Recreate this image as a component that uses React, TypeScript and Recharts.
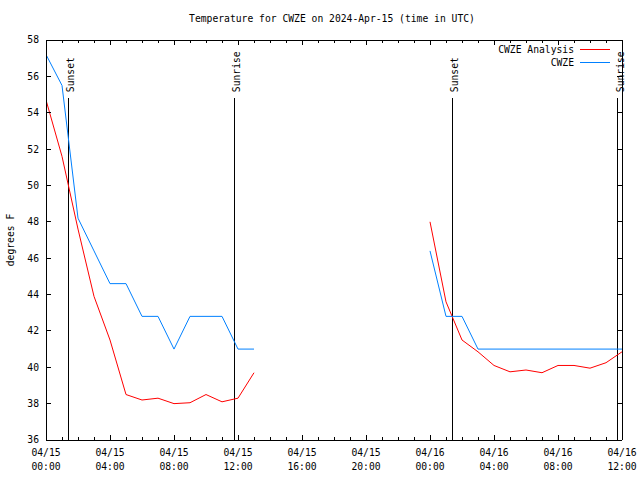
import { LineChart, Line, XAxis, YAxis, ReferenceLine } from "recharts";

const hours = [
  0, 1, 2, 3, 4, 5, 6, 7, 8, 9, 10, 11, 12, 13, 14, 15, 16, 17, 18,
  19, 20, 21, 22, 23, 24, 25, 26, 27, 28, 29, 30, 31, 32, 33, 34, 35, 36,
];

// CWZE Analysis (red)
const analysis = [
  54.7, 51.6, 47.6, 43.9, 41.5, 38.5, 38.2, 38.3, 38.0, 38.05, 38.5, 38.1, 38.3, 39.7,
  null, null, null, null, null, null, null, null, null, null,
  48.0, 43.6, 41.5, 40.85, 40.1, 39.75, 39.85, 39.7, 40.1, 40.1, 39.95, 40.25, 40.85,
];

// CWZE observations (blue)
const observed = [
  57.2, 55.5, 48.2, 46.4, 44.6, 44.6, 42.8, 42.8, 41.0, 42.8, 42.8, 42.8, 41.0, 41.0,
  null, null, null, null, null, null, null, null, null, null,
  46.4, 42.8, 42.8, 41.0, 41.0, 41.0, 41.0, 41.0, 41.0, 41.0, 41.0, 41.0, 41.0,
];

const majorHours = [0, 4, 8, 12, 16, 20, 24, 28, 32, 36];
const tickDates = ["04/15", "04/15", "04/15", "04/15", "04/15", "04/15", "04/16", "04/16", "04/16", "04/16"];
const tickTimes = ["00:00", "04:00", "08:00", "12:00", "16:00", "20:00", "00:00", "04:00", "08:00", "12:00"];
const yTicks = [36, 38, 40, 42, 44, 46, 48, 50, 52, 54, 56, 58];

const sunHours = [1.38, 11.75, 25.38, 35.72];
const sunLabels = ["Sunset", "Sunrise", "Sunset", "Sunrise"];

const seriesNames = ["CWZE Analysis", "CWZE"];
const seriesColors = ["#ff0000", "#0080ff"];

const FONT = "'DejaVu Sans Mono', monospace";

const data = hours.map((h, i) => ({ hour: h, analysis: analysis[i], observed: observed[i] }));

function DateTick(props: any) {
  const { x, y, payload } = props;
  const idx = majorHours.indexOf(payload.value);
  return (
    <text x={x} y={y} textAnchor="middle" fontFamily={FONT} fontSize={9.7} fill="#000">
      <tspan x={x} dy="0.71em">{tickDates[idx]}</tspan>
      <tspan x={x} dy={14}>{tickTimes[idx]}</tspan>
    </text>
  );
}

// inward tick marks, gnuplot style (longer on major hours)
function makeInTick(dx: number, dy: number, isX: boolean) {
  return (props: any) => {
    const { x, y, payload } = props;
    const len = isX && payload.value % 4 !== 0 ? 3 : 5;
    return (
      <line x1={x} y1={y} x2={x + dx * len} y2={y + dy * len} stroke="#000" strokeWidth={1} shapeRendering="crispEdges" />
    );
  };
}

function sunLabel(text: string) {
  return (props: any) => {
    const vb = props.viewBox || {};
    const x = vb.x + 6;
    const y = vb.y - 6;
    return (
      <text x={x} y={y} transform={`rotate(-90, ${x}, ${y})`} fontFamily={FONT} fontSize={9.7} fill="#000">
        {text}
      </text>
    );
  };
}

const crisp = { shapeRendering: "crispEdges" } as any;

export default function App() {
  return (
    <div style={{ position: "absolute", left: 0, top: 0, width: 640, height: 480, background: "#fff" }}>
      <div
        style={{
          position: "absolute",
          left: 332,
          top: 13,
          transform: "translateX(-50%)",
          whiteSpace: "nowrap",
          fontFamily: FONT,
          fontSize: 9.7,
        }}
      >
        Temperature for CWZE on 2024-Apr-15 (time in UTC)
      </div>

      <LineChart width={640} height={480} data={data} margin={{ top: 40, right: 18, bottom: 0, left: 0 }}>
        {/* frame with inward ticks */}
        <XAxis xAxisId="bTicks" dataKey="hour" type="number" domain={[0, 36]} allowDataOverflow orientation="bottom" mirror height={1}
          ticks={hours} interval={0} tickSize={0} tickMargin={0} tickLine={false} tick={makeInTick(0, -1, true)}
          axisLine={{ stroke: "#000", ...crisp }} />
        <XAxis xAxisId="tTicks" dataKey="hour" type="number" domain={[0, 36]} allowDataOverflow orientation="top" mirror height={1}
          ticks={hours} interval={0} tickSize={0} tickMargin={0} tickLine={false} tick={makeInTick(0, 1, true)}
          axisLine={{ stroke: "#000", ...crisp }} />
        <YAxis yAxisId="lTicks" type="number" domain={[36, 58]} allowDataOverflow orientation="left" mirror width={1}
          ticks={yTicks} interval={0} tickSize={0} tickMargin={0} tickLine={false} tick={makeInTick(1, 0, false)}
          axisLine={{ stroke: "#000", ...crisp }} />
        <YAxis yAxisId="rTicks" type="number" domain={[36, 58]} allowDataOverflow orientation="right" mirror width={1}
          ticks={yTicks} interval={0} tickSize={0} tickMargin={0} tickLine={false} tick={makeInTick(-1, 0, false)}
          axisLine={{ stroke: "#000", ...crisp }} />

        {/* label axes */}
        <XAxis xAxisId="main" dataKey="hour" type="number" domain={[0, 36]} allowDataOverflow height={40}
          ticks={majorHours} interval={0} tick={<DateTick />} tickLine={false} axisLine={false} tickSize={0} tickMargin={9} />
        <YAxis yAxisId="main" type="number" domain={[36, 58]} allowDataOverflow width={46}
          ticks={yTicks} interval={0} tickLine={false} axisLine={false} tickSize={0} tickMargin={7}
          tick={{ fontFamily: FONT, fontSize: 9.7, fill: "#000" }}
          label={(props: any) => {
            const vb = props.viewBox || {};
            const cy = vb.y + vb.height / 2;
            return (
              <text x={14} y={cy} textAnchor="middle" transform={`rotate(-90, 14, ${cy})`} fontFamily={FONT} fontSize={9.7} fill="#000">
                degrees F
              </text>
            );
          }}
        />

        {sunHours.map((h, i) => (
          <ReferenceLine
            key={i}
            xAxisId="main"
            yAxisId="main"
            segment={[{ x: h, y: 36 }, { x: h, y: 54.8 }]}
            stroke="#000"
            strokeWidth={1}
            shapeRendering="crispEdges"
            label={sunLabel(sunLabels[i])}
          />
        ))}

        <Line xAxisId="main" yAxisId="main" type="linear" dataKey="analysis" name={seriesNames[0]} stroke={seriesColors[0]}
          strokeWidth={1} dot={false} isAnimationActive={false} connectNulls={false} />
        <Line xAxisId="main" yAxisId="main" type="linear" dataKey="observed" name={seriesNames[1]} stroke={seriesColors[1]}
          strokeWidth={1} dot={false} isAnimationActive={false} connectNulls={false} />
      </LineChart>

      <div style={{ position: "absolute", left: 480, top: 43, width: 130, fontFamily: FONT, fontSize: 9.7 }}>
        {seriesNames.map((name, i) => (
          <div key={name} style={{ display: "flex", alignItems: "center", justifyContent: "flex-end", height: 13 }}>
            <span style={{ whiteSpace: "nowrap" }}>{name}</span>
            <span style={{ display: "inline-block", width: 30, height: 1, background: seriesColors[i], marginLeft: 6 }} />
          </div>
        ))}
      </div>
    </div>
  );
}
